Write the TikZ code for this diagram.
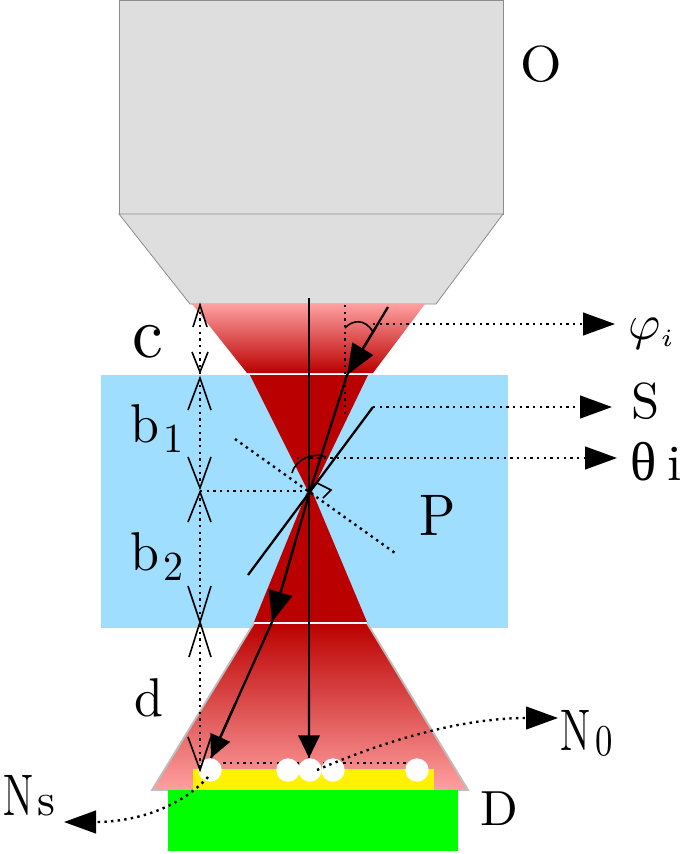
\documentclass[tikz,border=0pt]{standalone}
\usepackage{fontspec}
\usepackage{graphicx}
\newfontfamily\grk{Liberation Serif}
\usetikzlibrary{arrows.meta,calc}
\definecolor{objfill}{HTML}{DEDEDE}
\definecolor{objline}{HTML}{8C8C8C}
\definecolor{plate}{HTML}{9FDEFF}
\definecolor{deepred}{HTML}{BB0000}
\definecolor{lightred}{HTML}{FFA0A0}
\definecolor{coneedge}{HTML}{BDBDBD}
\newcommand{\fs}[1]{\fontsize{#1}{#1}\selectfont}
\newcommand{\tx}[3]{\scalebox{#1}[#2]{#3}}
\tikzset{
  objpart/.style={fill=objfill,draw=objline,line width=0.6pt},
  ray/.style={draw=black,line width=1.7pt},
  tick/.style={draw=black,line width=1.2pt,line join=miter},
  dots/.style={draw=black,line width=1.8pt,dash pattern=on 1.8pt off 3.2pt},
  bigarrow/.style={-{Triangle[length=24pt,width=17pt]}},
  midarrow/.style={-{Triangle[length=23pt,width=18pt]}},
  lowarrow/.style={-{Triangle[length=17pt,width=16pt]}},
  bead/.style={circle,fill=white,minimum size=17.5pt,inner sep=0pt,outer sep=0pt},
  lab/.style={inner sep=0pt,outer sep=0pt,text=black},
}
\begin{document}
\begin{tikzpicture}[x=0.75pt,y=-0.75pt]
\useasboundingbox (0,0) rectangle (685,854);
% objective
\node[objpart,inner sep=0pt,minimum width=288pt,minimum height=160.5pt,anchor=north west] (objbody) at (119,0) {};
\draw[objpart] (119,214) -- (503,214) -- (436,304) -- (190,304) -- cycle;
% plate
\node[fill=plate,inner sep=0pt,minimum width=305.25pt,minimum height=189.75pt,anchor=north west] (plate) at (101,375) {};
% top cone
\shade[top color=lightred,bottom color=deepred] (192,304) -- (425,304) -- (373,373) -- (247,373) -- cycle;
\fill[deepred] (250,375) -- (368,375) -- (312,491) -- (308,491) -- cycle;
\draw[white,line width=0.4pt] (247,374) -- (372,374);
% bottom cone
\fill[deepred] (309,487) -- (312,491) -- (367,622) -- (254,622) -- cycle;
\shade[top color=deepred,bottom color=lightred] (254,623) -- (367,623) -- (468,790) -- (152,790) -- cycle;
\draw[coneedge,line width=1.4pt] (152,790) -- (254,623) -- (367,623) -- (468,790) -- cycle;
\draw[white!80!plate,line width=1pt] (254,623) -- (367,623);
% substrate
\node[fill=green,inner sep=0pt,minimum width=217.5pt,minimum height=45.75pt,anchor=north west] (sub) at (168,790) {};
\node[fill=yellow,inner sep=0pt,minimum width=180.75pt,minimum height=15.75pt,anchor=north west] (film) at (193,769) {};
% named points
\coordinate (apex) at (310,491);
\coordinate (rayin) at (388,307);
\coordinate (rayhit) at (347,375);
\coordinate (rayexit) at (272,622);
\coordinate (rayend) at (211,758);
\coordinate (axtop) at (309,298);
\coordinate (axend) at (309,758);
\coordinate (nA) at (235,439);
\coordinate (nB) at (395,553);
\coordinate (sA) at (373,407);
\coordinate (sB) at (248,575);
\coordinate (dimT) at (200,305);
\coordinate (dimM) at (200,491);
\coordinate (dimP) at (200,622);
\coordinate (dimB) at (200,770);
\coordinate (vT) at (345,305);
\coordinate (vB) at (345,418);
\coordinate (phiA) at (373,324);
\coordinate (thA) at (297,458);
\coordinate (lineL) at (210,763);
\coordinate (lineR) at (417,763);
% dotted guide along the bead tops, under the beads
\draw[dots] (lineL) -- (lineR);
% beads
\node[bead] (b1) at (210,770) {};
\node[bead] (b2) at (288,770) {};
\node[bead] (b3) at (310,770) {};
\node[bead] (b4) at (333,770) {};
\node[bead] (b5) at (417,770) {};
% dotted guides
\draw[dots] (dimT) -- (dimB);
\draw[dots] (dimM) -- (apex);
\draw[dots] (vT) -- (vB);
\draw[dots] (nA) -- (nB);
% labelled leaders
\node[lab,anchor=base west] (phi) at (628,339) {\scalebox{3.7}{$\varphi_{\scriptscriptstyle i}$}};
\node[lab,anchor=base west] (S) at (631,418) {\tx{3.8}{3.8}{S}};
\node[lab,anchor=base west] (theta) at (630,480) {\fs{41}\grk θ};
\node[lab,anchor=base west] (ivar) at (667,480) {\tx{3.9}{3.8}{i}};
\coordinate (phiTip) at (615,324);
\coordinate (STip) at (612,407);
\coordinate (thTip) at (617,458);
\draw[dots,bigarrow] (phiA) -- (phiTip);
\draw[dots,bigarrow] (sA) -- (STip);
\draw[dots,bigarrow] (thA) -- (thTip);
% rays
\draw[ray] (sA) -- (sB);
\draw[ray] (axtop) -- (axend);
\draw[ray] (rayin) -- (rayhit) -- (apex) -- (rayexit) -- (rayend);
\draw[ray,midarrow] ($(rayin)!0.3!(rayhit)$) -- (rayhit);
\draw[ray,midarrow] ($(apex)!0.4!(rayexit)$) -- (rayexit);
\draw[ray,lowarrow] ($(axtop)!0.85!(axend)$) -- (axend);
\draw[ray,lowarrow] ($(rayexit)!0.6!(rayend)$) -- (rayend);
% open arrow marks
\draw[tick] (193,327) -- (dimT) -- (207,327);
\draw[tick] (192,352) -- (200,372) -- (208,352);
\draw[tick] (188,410) -- (200,378) -- (211,410);
\draw[tick] (188,457) -- (200,488) -- (211,457);
\draw[tick] (188,522) -- (200,492) -- (211,522);
\draw[tick] (188,586) -- (dimP) -- (211,586);
\draw[tick] (189,657) -- (dimP) -- (211,657);
\draw[tick] (188,737) -- (dimB) -- (211,737);
% angle marks
\draw[tick] (345,328) .. controls (352,320) and (365,318) .. (373,332);
\draw[tick] (292,473) .. controls (296,458) and (315,452) .. (326,457);
\draw[tick] (317,483) -- (331,490) -- (323,498);
% curved leaders
\coordinate (NzTip) at (558,718);
\coordinate (NsTip) at (64,822);
\draw[dots,bigarrow] (317,770) .. controls (375,745) and (455,718) .. (NzTip);
\draw[dots,bigarrow] (208,777) .. controls (180,808) and (135,822) .. (NsTip);
% labels
\node[lab,anchor=base] (O) at (541,81) {\tx{4}{3.8}{O}};
\node[lab,anchor=base] (c) at (148,357) {\tx{5.2}{5.4}{c}};
\node[lab,anchor=base west] (bone) at (130,442) {\tx{3.9}{4.1}{b}};
\node[lab,anchor=base west] (bonesub) at (163,452) {\tx{3}{3.1}{1}};
\node[lab,anchor=base west] (btwo) at (130,570) {\tx{3.9}{4.1}{b}};
\node[lab,anchor=base west] (btwosub) at (163,580) {\tx{3}{3.1}{2}};
\node[lab,anchor=base] (d) at (149,716) {\tx{3.9}{4.1}{d}};
\node[lab,anchor=base] (P) at (438,535) {\tx{4}{4.4}{P}};
\node[lab,anchor=base west] (Nz) at (560,750) {\tx{3}{4.4}{N}};
\node[lab,anchor=base west] (Nzsub) at (595,755) {\tx{2.6}{3.3}{0}};
\node[lab,anchor=base west] (Ns) at (3,815) {\tx{3}{4.4}{N}};
\node[lab,anchor=base west] (Nssub) at (37,815) {\tx{3.4}{3.4}{s}};
\node[lab,anchor=base] (D) at (499,825) {\tx{3.7}{3.7}{D}};
\end{tikzpicture}
\end{document}
